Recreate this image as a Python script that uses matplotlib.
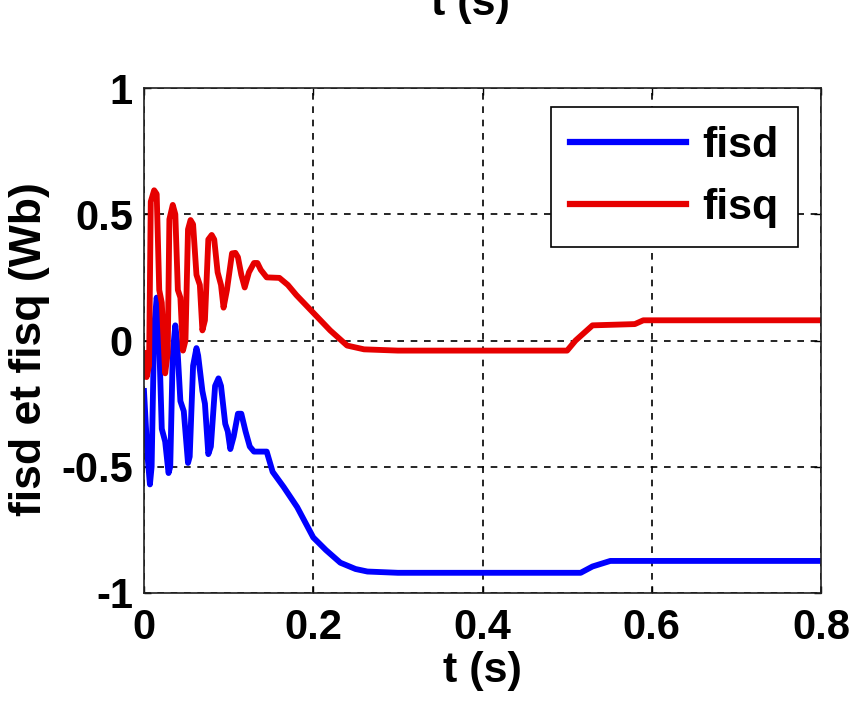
import matplotlib
matplotlib.use("Agg")
import matplotlib.pyplot as plt

# ---- data ----
t_fisd = [0, 0.004, 0.007, 0.009, 0.012, 0.015, 0.017, 0.021, 0.025, 0.029,
          0.031, 0.034, 0.037, 0.039, 0.043, 0.047, 0.052, 0.054, 0.058, 0.062,
          0.064, 0.069, 0.072, 0.076, 0.079, 0.084, 0.088, 0.091, 0.096, 0.099,
          0.102, 0.106, 0.111, 0.115, 0.120, 0.125, 0.130, 0.145, 0.152, 0.165,
          0.181, 0.2, 0.215, 0.232, 0.25, 0.264, 0.3, 0.4, 0.516, 0.53, 0.551, 0.8]
fisd = [-0.2, -0.45, -0.57, -0.5, 0.05, 0.17, 0.1, -0.35, -0.40, -0.525,
        -0.5, -0.05, 0.06, 0.0, -0.24, -0.28, -0.485, -0.46, -0.1, -0.03,
        -0.06, -0.2, -0.25, -0.45, -0.42, -0.18, -0.15, -0.18, -0.33, -0.36,
        -0.43, -0.38, -0.29, -0.29, -0.36, -0.42, -0.44, -0.44, -0.52, -0.58,
        -0.66, -0.78, -0.83, -0.88, -0.905, -0.915, -0.92, -0.92, -0.92, -0.895, -0.873, -0.873]

t_fisq = [0, 0.003, 0.006, 0.008, 0.012, 0.015, 0.018, 0.021, 0.025, 0.028,
          0.030, 0.034, 0.037, 0.040, 0.043, 0.046, 0.049, 0.052, 0.055, 0.058,
          0.062, 0.066, 0.069, 0.072, 0.076, 0.080, 0.083, 0.087, 0.091, 0.094,
          0.098, 0.104, 0.108, 0.111, 0.115, 0.119, 0.124, 0.130, 0.134, 0.138,
          0.145, 0.16, 0.17, 0.18, 0.2, 0.22, 0.24, 0.26, 0.3, 0.4, 0.5, 0.51,
          0.53, 0.58, 0.59, 0.8]
fisq = [-0.05, -0.145, -0.1, 0.55, 0.595, 0.58, 0.2, 0.15, -0.13, -0.05,
        0.48, 0.537, 0.5, 0.2, 0.17, -0.04, 0.0, 0.44, 0.477, 0.46,
        0.26, 0.22, 0.04, 0.08, 0.40, 0.418, 0.40, 0.27, 0.22, 0.13,
        0.2, 0.345, 0.347, 0.33, 0.26, 0.21, 0.27, 0.307, 0.307, 0.28,
        0.25, 0.248, 0.22, 0.18, 0.11, 0.04, -0.02, -0.035, -0.04, -0.04, -0.04, 0.0,
        0.06, 0.065, 0.08, 0.08]

series_labels = ["fisd", "fisq"]
xticks = [0, 0.2, 0.4, 0.6, 0.8]
xtick_labels = ["0", "0.2", "0.4", "0.6", "0.8"]
yticks = [-1, -0.5, 0, 0.5, 1]
ytick_labels = ["-1", "-0.5", "0", "0.5", "1"]

plt.rcParams['font.family'] = ['Liberation Sans', 'DejaVu Sans']
plt.rcParams['font.weight'] = 'bold'

fig = plt.figure(figsize=(8.57, 7.13), dpi=100)
ax = fig.add_axes([144/857, 1-593/713, 677/857, 505/713])

ax.plot(t_fisd, fisd, color=(0, 0, 1), lw=4.2, label=series_labels[0])
ax.plot(t_fisq, fisq, color=(0.9, 0, 0), lw=4.2, label=series_labels[1])

ax.set_xlim(0, 0.8)
ax.set_ylim(-1, 1)
ax.set_xticks(xticks)
ax.set_xticklabels(xtick_labels)
ax.set_yticks(yticks)
ax.set_yticklabels(ytick_labels)
ax.tick_params(direction='in', length=5, width=1, top=True, right=True,
               labelsize=30, colors='black')
ax.tick_params(axis='x', pad=11)
ax.tick_params(axis='y', pad=8)
ax.grid(True, color='black', linestyle=(0, (4, 4)), linewidth=1.2)
for s in ax.spines.values():
    s.set_linewidth(1.2)
    s.set_color('#202020')

ax.set_xlabel("t (s)", fontsize=31, fontweight='bold', labelpad=2)
ax.set_ylabel("fisd et fisq (Wb)", fontsize=32, fontweight='bold')
ax.yaxis.set_label_coords(-0.139, 0.483)

leg = ax.legend(loc='upper right', bbox_to_anchor=(798/857, 1-107/713),
                bbox_transform=fig.transFigure, fontsize=31, frameon=True,
                fancybox=False, edgecolor='black', framealpha=1,
                handlelength=2.7, handletextpad=0.37, labelspacing=0.5,
                borderpad=0.45, borderaxespad=0)
leg.get_frame().set_linewidth(1.2)
for line in leg.get_lines():
    line.set_linewidth(4.5)

# cropped label of the panel above
fig.text(470/857, 1-15/713, "t (s)", fontsize=31, fontweight='bold',
         ha='center', va='baseline')

fig.savefig("out.png", dpi=100)
